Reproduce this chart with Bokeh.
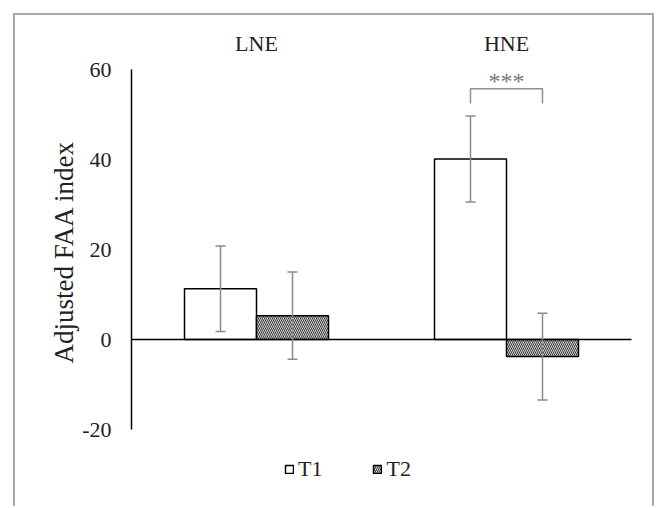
from bokeh.plotting import figure
from bokeh.models import (Range1d, LinearAxis, FixedTicker, Whisker, TeeHead,
                          ColumnDataSource, Legend, LegendItem)
from bokeh.core.properties import value
from bokeh.embed import file_html
from bokeh.resources import INLINE

# ---------------- data ----------------
cats = ["LNE", "HNE"]
series = ["T1", "T2"]
t1_mean = [11.3, 40.1]
t1_err = [9.5, 9.55]
t2_mean = [5.3, -3.8]
t2_err = [9.7, 9.65]
y_ticks = [-20, 0, 20, 40, 60]
sig_group = "HNE"
sig_label = "***"

# ---------------- style ----------------
FONT = "Liberation Serif"
BAR_W = 0.288
ERR_COL = "#8a8a8a"
SIG_COL = "#8f8f8f"
BORDER = "2px solid #a8a8a8"
W, H = 641, 493

group_x = [i + 0.5 for i in range(len(cats))]
x1 = [g - BAR_W / 2 for g in group_x]
x2 = [g + BAR_W / 2 for g in group_x]

src1 = ColumnDataSource(dict(x=x1, top=t1_mean,
                             upper=[m + e for m, e in zip(t1_mean, t1_err)],
                             lower=[m - e for m, e in zip(t1_mean, t1_err)]))
src2 = ColumnDataSource(dict(x=x2, top=t2_mean,
                             upper=[m + e for m, e in zip(t2_mean, t2_err)],
                             lower=[m - e for m, e in zip(t2_mean, t2_err)]))

p = figure(width=W, height=H,
           x_range=Range1d(0, 2.1), y_range=Range1d(-33.11, 72.0),
           output_backend="svg", toolbar_location=None,
           x_axis_location=None,
           min_border_left=116, min_border_right=0,
           min_border_top=0, min_border_bottom=20,
           outline_line_color=None)
p.grid.grid_line_color = None
p.margin = (13, 0, 0, 13)
p.styles = {"border-top": BORDER, "border-left": BORDER, "border-right": BORDER}

# y axis
ya = p.yaxis[0]
ya.bounds = (y_ticks[0], y_ticks[-1])
ya.ticker = FixedTicker(ticks=y_ticks)
ya.major_label_overrides = {t: str(t) for t in y_ticks}
ya.major_tick_out = 0
ya.major_tick_in = 0
ya.minor_tick_out = 0
ya.minor_tick_in = 0
ya.axis_line_color = "black"
ya.axis_line_width = 1.5
ya.major_label_text_font = FONT
ya.major_label_text_font_size = "22px"
ya.major_label_text_color = "#222222"
ya.major_label_standoff = 20
ya.axis_label = "Adjusted FAA index"
ya.axis_label_text_font = FONT
ya.axis_label_text_font_size = "27px"
ya.axis_label_text_font_style = "normal"
ya.axis_label_text_color = "#222222"
ya.axis_label_standoff = 0

# zero line as an x axis fixed at y = 0
xa = LinearAxis(fixed_location=0, bounds=(0, 2.0),
                ticker=FixedTicker(ticks=[]),
                major_tick_out=0, major_tick_in=0,
                minor_tick_out=0, minor_tick_in=0,
                major_label_text_font_size="0px",
                axis_line_color="black", axis_line_width=1.5)
p.add_layout(xa, "below")

# bars
r1 = p.vbar(x="x", top="top", bottom=0, width=BAR_W, source=src1,
            fill_color="white", line_color="black", line_width=1.5)
r2 = p.vbar(x="x", top="top", bottom=0, width=BAR_W, source=src2,
            fill_color="white", hatch_pattern="\\", hatch_color="#333333",
            hatch_scale=4, hatch_weight=1.1,
            line_color="black", line_width=1.5)

# error bars
for s in (src1, src2):
    p.add_layout(Whisker(source=s, base="x", upper="upper", lower="lower",
                         line_color=ERR_COL, line_width=1.5, level="overlay",
                         upper_head=TeeHead(size=10, line_color=ERR_COL, line_width=1.5),
                         lower_head=TeeHead(size=10, line_color=ERR_COL, line_width=1.5)))

# category labels above groups
p.text(x=group_x, y=[65.8] * len(cats), text=cats,
       text_font=value(FONT), text_font_size="22px", text_color="#222222",
       text_align="center", text_baseline="middle")

# significance bracket for HNE
gi = cats.index(sig_group)
bx1, bx2 = x1[gi], x2[gi]
ytop_err = max(t1_mean[gi] + t1_err[gi], t2_mean[gi] + t2_err[gi])
leg_lo = ytop_err + 2.8
leg_hi = ytop_err + 6.1
p.line(x=[bx1, bx1, bx2, bx2], y=[leg_lo, leg_hi, leg_hi, leg_lo],
       line_color=SIG_COL, line_width=1.5)
p.text(x=[(bx1 + bx2) / 2], y=[leg_hi + 1.6], text=[sig_label],
       text_font=value(FONT), text_font_size="24px", text_color="#777777",
       text_align="center", text_baseline="middle")

# legend
legend = Legend(items=[LegendItem(label=series[0], renderers=[r1]),
                       LegendItem(label=series[1], renderers=[r2])],
                location=(153, 6), orientation="horizontal",
                padding=0, margin=0, spacing=50,
                glyph_width=10, glyph_height=10, label_standoff=4,
                label_text_font=FONT, label_text_font_size="22px",
                label_text_color="#222222",
                border_line_color=None, background_fill_alpha=0)
p.add_layout(legend)

open("out.html", "w").write(file_html(p, INLINE))
